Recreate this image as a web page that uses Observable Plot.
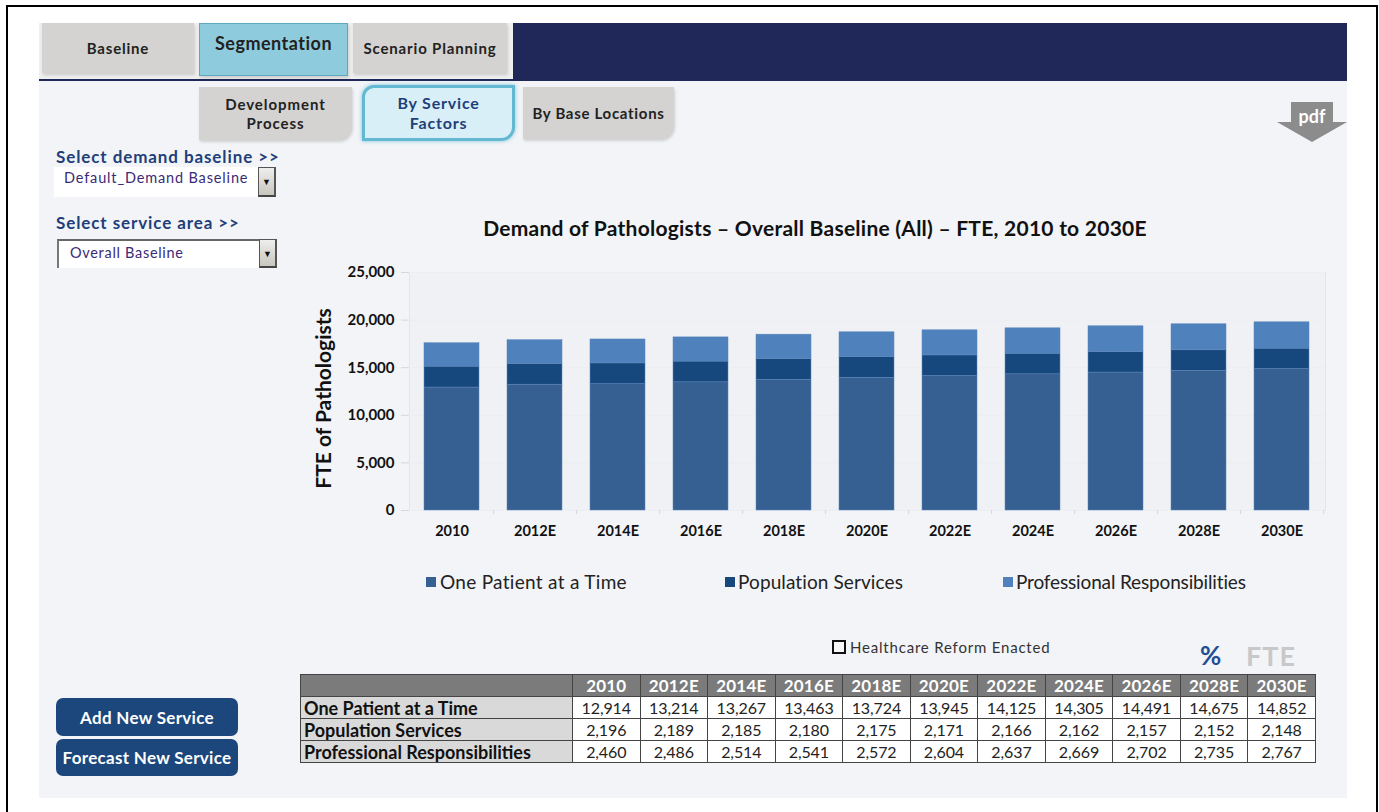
<!DOCTYPE html>
<html><head><meta charset="utf-8">
<script src="https://cdn.jsdelivr.net/npm/d3@7"></script>
<script src="https://cdn.jsdelivr.net/npm/@observablehq/plot@0.6"></script>
<style>
html,body{margin:0;padding:0;background:#fff;overflow:hidden}
#page{position:relative;width:1379px;height:812px;font-family:Lato,sans-serif;overflow:hidden;color:#111}
.a{position:absolute;box-sizing:border-box}
.tab{display:flex;align-items:center;justify-content:center;text-align:center;background:#d4d3d1;color:#222;font-weight:700;font-size:15px;letter-spacing:.8px;line-height:19px;box-shadow:1px 2px 3px rgba(0,0,0,.15)}
.nav{color:#1f3f7a;font-weight:700;font-size:17px;letter-spacing:.9px;white-space:nowrap}
.dd{color:#3c2a78;font-size:14.5px;white-space:nowrap}
.btn{background:#1b477c;color:#fff;font-weight:700;font-size:17px;letter-spacing:.3px;border-radius:7px;display:flex;align-items:center;justify-content:center;white-space:nowrap}
.arrow{background:linear-gradient(#eee,#c9c6bd);border:1px solid #555;border-bottom:2px solid #444;border-right:2px solid #555;display:flex;align-items:center;justify-content:center;font-size:9px;color:#111}
table{border-collapse:collapse;table-layout:fixed;width:1016px;height:89px;font-size:16px}
tr{height:22px}
td,th{border:1px solid #444;padding:0;text-align:center;overflow:hidden;white-space:nowrap;line-height:18px}
th{background:#7b7b7b;color:#fff;font-weight:700;font-size:17px;letter-spacing:.2px}
td{background:#fff;color:#222;letter-spacing:-.1px}
td.l{background:#d9d9d9;color:#111;text-align:left;font-weight:700;font-size:18px;padding-left:3px;letter-spacing:0}
.lg{white-space:nowrap;font-size:19px;line-height:26px;color:#222}
.sw{position:absolute;width:10px;height:10px}
</style></head><body><div id="page"></div>
<script>
const years=["2010","2012E","2014E","2016E","2018E","2020E","2022E","2024E","2026E","2028E","2030E"];
const onePatient=[12914,13214,13267,13463,13724,13945,14125,14305,14491,14675,14852];
const population=[2196,2189,2185,2180,2175,2171,2166,2162,2157,2152,2148];
const professional=[2460,2486,2514,2541,2572,2604,2637,2669,2702,2735,2767];
const seriesNames=["One Patient at a Time","Population Services","Professional Responsibilities"];
const seriesColors=["#366092","#17487d","#4f81bd"];
const seriesValues=[onePatient,population,professional];
const yTicks=[0,5000,10000,15000,20000,25000];
const chartTitle="Demand of Pathologists – Overall Baseline (All) – FTE, 2010 to 2030E";

const page=document.getElementById("page");
function box(cls,l,t,w,h,html,style){
  const d=document.createElement("div");d.className="a "+cls;
  d.style.cssText=`left:${l}px;top:${t}px;`+(w!=null?`width:${w}px;`:"")+(h!=null?`height:${h}px;`:"")+(style||"");
  if(html!=null)d.innerHTML=html;page.appendChild(d);return d;
}
// frame and panel
box("",6,5,1372,2,null,"background:#000");
box("",6,5,2,807,null,"background:#000");
box("",1376,5,2,807,null,"background:#000");
box("",39,23,1308,775,null,"background:#f2f4f7");
box("",39,23,474,57,null,"background:#efefef");
box("",513,23,834,58,null,"background:#1f2859");
box("",39,79,474,2,null,"background:#1f2859");
// top tabs
box("tab",42,23,152,50,"Baseline");
box("tab",199,23,149,53,"Segmentation","background:#8ecbdd;border:1px solid #5fa9c0;font-size:18px;padding-bottom:12px;letter-spacing:.5px");
box("tab",353,23,154,50,"Scenario Planning","letter-spacing:.85px");
// sub tabs
box("tab",199,87,153,53,"Development<br>Process","border-radius:0 0 14px 0;letter-spacing:.95px");
box("tab",362,85,153,56,"By Service<br>Factors","background:#d9eff7;border:3px solid #62b9d1;border-radius:12px 0 14px 0;box-shadow:0 0 4px #7cc5da;color:#1f3f7a;font-size:16px;line-height:20px");
box("tab",523,87,151,52,"By Base Locations","border-radius:0 0 14px 0;letter-spacing:.7px");
// selectors
box("nav",56,146,null,20,"Select demand baseline &gt;&gt;");
box("",54,167,204,30,null,"background:#fff");
box("dd",64,169,null,18,"Default_Demand Baseline","letter-spacing:.85px");
box("arrow",258,167,18,30,"▼");
box("nav",56,212,null,20,"Select service area &gt;&gt;");
box("",57,239,203,29,null,"background:#fff;border-top:2px solid #666;border-left:2px solid #777");
box("dd",70,244,null,18,"Overall Baseline","letter-spacing:.7px");
box("arrow",259,239,18,29,"▼");
// pdf icon
box("",1277,102,70,40,null,"background:#8c8c8c;clip-path:polygon(20% 0,80% 0,80% 50%,100% 50%,50% 100%,0 50%,20% 50%)");
box("",1277,106,70,20,"pdf","color:#fff;font-weight:700;font-size:18px;text-align:center;line-height:20px");
// buttons
box("btn",56,698,182,38,"Add New Service");
box("btn",56,739,182,37,"Forecast New Service");
// title
box("",300,214,1030,28,chartTitle,"font-weight:700;font-size:21px;line-height:28px;text-align:center;color:#111;white-space:nowrap;letter-spacing:.25px");

// chart
const rows=years.flatMap((year,i)=>seriesNames.map((series,s)=>({year,series,value:seriesValues[s][i]})));
const chart=Plot.plot({
  width:1040,height:300,marginLeft:109,marginRight:15,marginTop:22,marginBottom:40,
  style:{background:"transparent",fontFamily:"Lato,sans-serif",fontSize:"15px",color:"#111"},
  x:{domain:years,paddingInner:.333,paddingOuter:.1665,label:null},
  y:{domain:[0,25000],label:null},
  color:{domain:seriesNames,range:seriesColors},
  marks:[
    Plot.frame({fill:"#eff1f5",stroke:"#e3e5e9"}),
    Plot.ruleY(yTicks,{stroke:"#eceef2"}),
    Plot.ruleX(years,{x:d=>d,dx:41.6,y1:0,y2:0,insetBottom:-4,stroke:"#d5d7db"}),
    Plot.barY(rows,{x:"year",y:"value",fill:"series",stroke:"#5d86bb",strokeWidth:.5}),
    Plot.axisY({ticks:yTicks,tickFormat:d3.format(","),tickSize:8,tickPadding:7,stroke:"#d5d7db",fontWeight:700,fill:"#111",fontSize:15,
      label:"FTE of Pathologists",labelAnchor:"center",labelArrow:"none",labelOffset:93}),
    Plot.axisX({tickSize:0,tickPadding:15,fontWeight:700,fill:"#111",fontSize:14.5,label:null})
  ]
});
chart.style.position="absolute";chart.style.left="300px";chart.style.top="250px";
page.appendChild(chart);
// y-label styling
chart.querySelectorAll("g[aria-label='y-axis label']").forEach(n=>{
  n.style.fontSize="21px";n.style.fontWeight="700";
  n.setAttribute("transform",(n.getAttribute("transform")||"")+" translate(0,7)");
});

// legend
const legendPos=[[426,440],[725,738],[1003,1016]];
const legendSpacing=[.3,.1,-.15];
seriesNames.forEach((n,i)=>{
  box("sw",legendPos[i][0],577,10,10,null,`background:${seriesColors[i]}`);
  box("lg",legendPos[i][1],569,null,26,n,`letter-spacing:${legendSpacing[i]}px`);
});
// reform + toggles
box("",832,640,14,14,null,"border:2px solid #111;background:#f7f7f7");
box("",850,638,null,18,"Healthcare Reform Enacted","font-size:15px;letter-spacing:.8px;color:#333;white-space:nowrap");
box("",1200,639,null,32,"%","font-size:26px;font-weight:700;color:#1f4e95");
box("",1246,639,null,32,"FTE","font-size:27px;font-weight:700;color:#c8c8c8;letter-spacing:1px");
// table
const fmt=d3.format(",");
let t="<table><colgroup><col style='width:272px'>"+years.map(()=>"<col>").join("")+"</colgroup><tr><th></th>"+years.map(y=>`<th>${y}</th>`).join("")+"</tr>";
seriesNames.forEach((n,s)=>{t+=`<tr><td class="l">${n}</td>`+seriesValues[s].map(v=>`<td>${fmt(v)}</td>`).join("")+"</tr>";});
t+="</table>";
box("",300,674,1016,89,t);
</script></body></html>
